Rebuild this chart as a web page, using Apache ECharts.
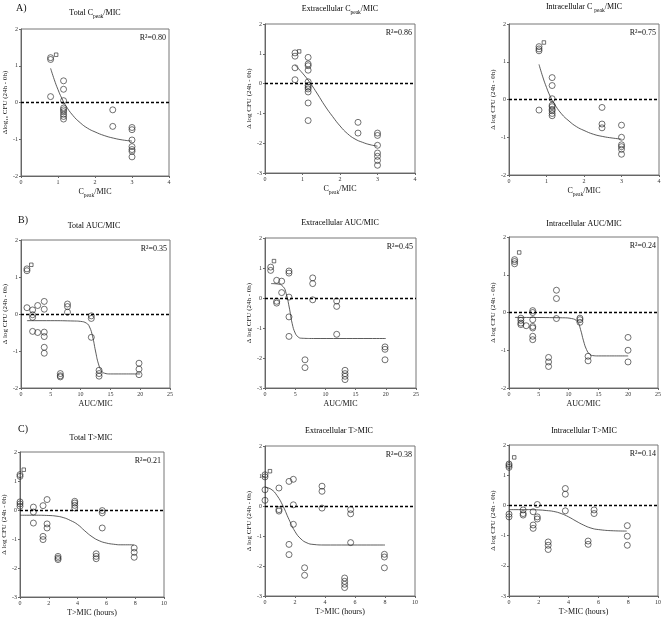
<!DOCTYPE html>
<html><head><meta charset="utf-8">
<script src="https://cdn.jsdelivr.net/npm/echarts@6/dist/echarts.min.js"></script>
<style>html,body{margin:0;padding:0;background:#fff}#c{width:664px;height:619px}</style>
</head><body><div id="c"></div>
<script>
// ---------- DATA ----------
// Panel 1: Total Cpeak/MIC
const p1Circles = [[0.8,1.22],[0.8,1.17],[0.8,0.16],
 [1.15,0.59],[1.15,0.36],[1.15,0.05],[1.15,-0.15],[1.15,-0.2],[1.15,-0.25],[1.15,-0.32],[1.15,-0.38],[1.15,-0.45],
 [2.48,-0.2],[2.48,-0.65],
 [3,-0.68],[3,-0.74],[3,-1.02],[3,-1.2],[3,-1.28],[3,-1.33],[3,-1.48]];
const p1Square = [[0.95,1.30]];
const p1Curve = [[0.8,0.93],[0.9,0.62],[1.0,0.35],[1.1,0.12],[1.2,-0.07],[1.4,-0.35],[1.6,-0.55],[1.8,-0.7],[2.0,-0.8],[2.25,-0.9],[2.5,-0.97],[2.75,-1.02],[3.0,-1.05]];
// Panel 2: Extracellular Cpeak/MIC
const p2Circles = [[0.8,1.03],[0.8,0.92],[0.8,0.53],[0.8,0.13],
 [1.15,0.88],[1.15,0.66],[1.15,0.6],[1.15,0.45],[1.15,0.06],[1.15,-0.06],[1.15,-0.12],[1.15,-0.18],[1.15,-0.28],[1.15,-0.65],[1.15,-1.24],
 [2.48,-1.3],[2.48,-1.66],
 [3,-1.66],[3,-1.74],[3,-2.07],[3,-2.33],[3,-2.44],[3,-2.58],[3,-2.74]];
const p2Square = [[0.91,1.08]];
const p2Curve = [[0.8,0.62],[1.0,0.35],[1.2,0.03],[1.4,-0.35],[1.6,-0.75],[1.8,-1.1],[2.0,-1.42],[2.2,-1.68],[2.4,-1.86],[2.6,-1.97],[2.8,-2.05],[3.0,-2.1]];
// Panel 3: Intracellular Cpeak/MIC
const p3Circles = [[0.8,1.4],[0.8,1.34],[0.8,1.29],[0.8,-0.28],
 [1.15,0.58],[1.15,0.37],[1.15,0.02],[1.15,-0.15],[1.15,-0.19],[1.15,-0.26],[1.15,-0.3],[1.15,-0.37],[1.15,-0.43],
 [2.48,-0.21],[2.48,-0.65],[2.48,-0.75],
 [3,-0.68],[3,-1.0],[3,-1.2],[3,-1.25],[3,-1.32],[3,-1.45]];
const p3Square = [[0.93,1.51]];
const p3Curve = [[0.8,0.93],[0.9,0.6],[1.0,0.32],[1.1,0.08],[1.2,-0.1],[1.4,-0.38],[1.6,-0.57],[1.8,-0.72],[2.0,-0.82],[2.25,-0.92],[2.5,-0.98],[2.75,-1.02],[3.0,-1.05]];
// Panel 4: Total AUC/MIC
const p4Circles = [[1,1.22],[1,1.17],[1,0.17],
 [1.95,0.11],[1.95,-0.02],[1.95,-0.09],[1.95,-0.47],
 [2.8,0.23],[2.8,-0.5],
 [3.9,0.34],[3.9,0.13],[3.9,-0.49],[3.9,-0.61],[3.9,-0.9],[3.9,-1.06],
 [6.6,-1.61],[6.6,-1.67],[6.6,-1.7],
 [7.8,0.27],[7.8,0.2],[7.8,0.05],
 [11.8,-0.05],[11.8,-0.12],[11.8,-0.63],
 [13.1,-1.52],[13.1,-1.61],[13.1,-1.68],
 [19.8,-1.33],[19.8,-1.49],[19.8,-1.64]];
const p4Square = [[1.73,1.33]];
const p4Curve = [[1,-0.18],[5,-0.18],[9,-0.19],[10,-0.2],[11,-0.25],[11.5,-0.35],[12,-0.6],[12.5,-1.0],[13,-1.35],[13.5,-1.53],[14,-1.6],[15,-1.62],[20,-1.62]];
// Panel 5: Extracellular AUC/MIC
const p5Circles = [[0.94,1.03],[0.94,0.92],
 [1.93,0.59],[1.93,-0.11],[1.93,-0.17],
 [2.76,0.56],[2.76,0.18],
 [3.97,0.9],[3.97,0.83],[3.97,0.03],[3.97,-0.63],[3.97,-1.28],
 [6.62,-2.06],[6.62,-2.32],
 [7.9,0.67],[7.9,0.48],[7.9,-0.06],
 [11.87,-0.1],[11.87,-0.28],[11.87,-1.21],
 [13.25,-2.41],[13.25,-2.52],[13.25,-2.61],[13.25,-2.72],
 [19.87,-1.63],[19.87,-1.71],[19.87,-2.06]];
const p5Square = [[1.49,1.23]];
const p5Curve = [[1,0.48],[2,0.47],[3,0.38],[3.5,0.15],[4,-0.3],[4.5,-0.85],[5,-1.17],[5.5,-1.3],[6,-1.34],[8,-1.35],[20,-1.35]];
// Panel 6: Intracellular AUC/MIC
const p6Circles = [[0.94,1.4],[0.94,1.35],[0.94,1.29],
 [1.99,-0.15],[1.99,-0.21],[1.99,-0.28],[1.99,-0.32],
 [2.88,-0.35],
 [3.98,0.05],[3.98,0.0],[3.98,-0.19],[3.98,-0.37],[3.98,-0.41],[3.98,-0.63],[3.98,-0.72],
 [6.64,-1.19],[6.64,-1.31],[6.64,-1.43],
 [7.96,0.59],[7.96,0.37],[7.96,-0.16],
 [11.9,-0.15],[11.9,-0.19],[11.9,-0.26],
 [13.27,-1.16],[13.27,-1.28],
 [19.97,-0.66],[19.97,-1.0],[19.97,-1.31]];
const p6Square = [[1.71,1.59]];
const p6Curve = [[1,-0.13],[9,-0.14],[10.5,-0.16],[11.5,-0.25],[12,-0.45],[12.5,-0.75],[13,-0.98],[13.5,-1.1],[14,-1.14],[15,-1.15],[20,-1.15]];
// Panel 7: Total T>MIC
const p7Circles = [[0,1.22],[0,1.16],[0,0.28],[0,0.21],[0,0.13],
 [0.93,0.1],[0.93,-0.07],[0.93,-0.45],
 [1.6,0.15],[1.6,-0.91],[1.6,-1.02],
 [1.88,0.36],[1.88,-0.48],[1.88,-0.62],
 [2.64,-1.6],[2.64,-1.66],[2.64,-1.71],
 [3.8,0.3],[3.8,0.24],[3.8,0.16],[3.8,0.07],
 [5.29,-1.51],[5.29,-1.6],[5.29,-1.68],
 [5.71,-0.02],[5.71,-0.1],[5.71,-0.62],
 [7.93,-1.31],[7.93,-1.46],[7.93,-1.63]];
const p7Square = [[0.26,1.39]];
const p7Curve = [[0,-0.18],[1,-0.18],[2,-0.19],[2.5,-0.21],[3,-0.26],[3.5,-0.36],[4,-0.5],[4.5,-0.72],[5,-0.92],[5.5,-1.06],[6,-1.14],[6.5,-1.18],[7,-1.2],[7.9,-1.2]];
// Panel 8: Extracellular T>MIC
const p8Circles = [[0,1.04],[0,0.97],[0,0.54],[0,0.19],
 [0.93,0.6],[0.93,-0.12],[0.93,-0.17],
 [1.6,0.82],[1.6,-1.28],[1.6,-1.62],
 [1.89,0.89],[1.89,0.04],[1.89,-0.61],
 [2.64,-2.06],[2.64,-2.31],
 [3.8,0.66],[3.8,0.49],[3.8,-0.07],
 [5.31,-2.4],[5.31,-2.51],[5.31,-2.61],[5.31,-2.72],
 [5.71,-0.12],[5.71,-0.26],[5.71,-1.22],
 [7.96,-1.61],[7.96,-1.7],[7.96,-2.06]];
const p8Square = [[0.33,1.16]];
const p8Curve = [[0,0.62],[0.4,0.56],[0.8,0.35],[1.2,0.0],[1.6,-0.45],[2.0,-0.85],[2.4,-1.1],[2.8,-1.23],[3.2,-1.28],[4,-1.3],[8,-1.3]];
// Panel 9: Intracellular T>MIC
const p9Circles = [[0,1.37],[0,1.32],[0,1.26],[0,-0.29],[0,-0.38],
 [0.95,-0.15],[0.95,-0.27],[0.95,-0.32],
 [1.62,-0.21],[1.62,-0.65],[1.62,-0.76],
 [1.9,0.03],[1.9,-0.38],[1.9,-0.45],
 [2.63,-1.21],[2.63,-1.32],[2.63,-1.46],
 [3.78,0.56],[3.78,0.37],[3.78,-0.18],
 [5.31,-1.18],[5.31,-1.29],
 [5.71,-0.15],[5.71,-0.27],
 [7.94,-0.67],[7.94,-1.02],[7.94,-1.32]];
const p9Square = [[0.35,1.59]];
const p9Curve = [[0,-0.14],[1,-0.14],[2,-0.15],[2.5,-0.17],[3,-0.2],[3.5,-0.27],[4,-0.38],[4.5,-0.52],[5,-0.65],[5.5,-0.75],[6,-0.8],[7,-0.84],[7.9,-0.85]];

const titles = ['{n|Total C}{s|peak}{n|/MIC}','{n|Extracellular C}{s|peak}{n|/MIC}','{n|Intracellular C }{s|peak}{n|/MIC}',
 '{n|Total AUC/MIC}','{n|Extracellular AUC/MIC}','{n|Intracellular AUC/MIC}',
 '{n|Total T>MIC}','{n|Extracellular T>MIC}','{n|Intracellular T>MIC}'];
const r2Labels = ['0.80','0.86','0.75','0.35','0.45','0.24','0.21','0.38','0.14'];
const xNames = ['{n|C}{s|peak}{n|/MIC}','{n|C}{s|peak}{n|/MIC}','{n|C}{s|peak}{n|/MIC}',
 '{n|AUC/MIC}','{n|AUC/MIC}','{n|AUC/MIC}',
 '{n|T>MIC (hours)}','{n|T>MIC (hours)}','{n|T>MIC (hours)}'];
const yNames = ['Δlog₁₀ CFU (24h - 0h)','Δ log CFU (24h - 0h)','Δ log CFU (24h - 0h)',
 'Δ log CFU (24h - 0h)','Δ log CFU (24h - 0h)','Δ log CFU (24h - 0h)',
 'Δ log CFU (24h - 0h)','Δ log CFU (24h - 0h)','Δ log CFU (24h - 0h)'];
const rowLabels = ['A)','B)','C)'];

const circles = [p1Circles,p2Circles,p3Circles,p4Circles,p5Circles,p6Circles,p7Circles,p8Circles,p9Circles];
const squares = [p1Square,p2Square,p3Square,p4Square,p5Square,p6Square,p7Square,p8Square,p9Square];
const curves = [p1Curve,p2Curve,p3Curve,p4Curve,p5Curve,p6Curve,p7Curve,p8Curve,p9Curve];

// ---------- LAYOUT ----------
const FONT = 'Liberation Serif';
const layout = [
 {l:21,t:29,w:148,h:147,xmax:4,xint:1,ymin:-2,ymax:2, tx:95, ty:14},
 {l:265,t:24,w:150,h:149,xmax:4,xint:1,ymin:-3,ymax:2, tx:340, ty:10},
 {l:509,t:24,w:150,h:151,xmax:4,xint:1,ymin:-2,ymax:2, tx:584, ty:8},
 {l:21,t:240,w:149,h:148,xmax:25,xint:5,ymin:-2,ymax:2, tx:94, ty:227},
 {l:265,t:238,w:151,h:150,xmax:25,xint:5,ymin:-3,ymax:2, tx:340, ty:224},
 {l:509,t:237,w:150,h:151,xmax:25,xint:5,ymin:-2,ymax:2, tx:584, ty:225},
 {l:20,t:452,w:144,h:145,xmax:10,xint:2,ymin:-3,ymax:2, tx:91, ty:439},
 {l:265,t:446,w:150,h:150,xmax:10,xint:2,ymin:-3,ymax:2, tx:339, ty:432},
 {l:509,t:445,w:150,h:151,xmax:10,xint:2,ymin:-3,ymax:2, tx:584, ty:432}
];
const rowPos = [[16,8],[18,220],[18,429]];

const rich = {
  n:{fontFamily:FONT,fontSize:8,color:'#111',lineHeight:10,verticalAlign:'top'},
  s:{fontFamily:FONT,fontSize:5.5,color:'#111',lineHeight:6,padding:[5,0,0,0],verticalAlign:'top'}
};

const grids=[], xAxes=[], yAxes=[], series=[], graphics=[];
const axisCommon = {
  axisLine:{show:true,onZero:false,lineStyle:{color:'#666',width:1}},
  axisTick:{show:true,length:2,lineStyle:{color:'#666',width:1}},
  splitLine:{show:false},
  axisLabel:{fontFamily:FONT,fontSize:6,color:'#333',margin:3}
};
layout.forEach((L,i)=>{
  grids.push({left:L.l,top:L.t,width:L.w,height:L.h,show:true,borderColor:'#777',borderWidth:1,backgroundColor:'transparent'});
  xAxes.push(Object.assign({gridIndex:i,type:'value',min:0,max:L.xmax,interval:L.xint,
    name:xNames[i],nameLocation:'middle',nameGap:12,nameTextStyle:{rich:rich}},axisCommon));
  yAxes.push(Object.assign({gridIndex:i,type:'value',min:L.ymin,max:L.ymax,interval:1,
    name:yNames[i],nameLocation:'middle',nameGap:11,nameTextStyle:{fontFamily:FONT,fontSize:7,color:'#111'}},axisCommon));
  series.push({type:'line',xAxisIndex:i,yAxisIndex:i,data:curves[i],smooth:true,showSymbol:false,symbol:'none',
    lineStyle:{color:'#333',width:0.8},silent:true,z:2,
    markLine:{silent:true,symbol:['none','none'],label:{show:false},animation:false,
      lineStyle:{color:'#000',type:[3,2],width:1.3},data:[{yAxis:0}]}});
  series.push({type:'scatter',xAxisIndex:i,yAxisIndex:i,data:circles[i],symbol:'circle',symbolSize:6,clip:false,
    itemStyle:{color:'rgba(255,255,255,0)',borderColor:'#222',borderWidth:0.8},z:3});
  series.push({type:'scatter',xAxisIndex:i,yAxisIndex:i,data:squares[i],symbol:'rect',symbolSize:3.5,clip:false,
    itemStyle:{color:'rgba(255,255,255,0)',borderColor:'#222',borderWidth:0.8},z:3});
  graphics.push({type:'text',x:L.tx,y:L.ty,style:{text:titles[i],rich:rich,align:'center',verticalAlign:'middle'}});
  graphics.push({type:'text',x:L.l+L.w-3,y:L.t+9,style:{text:'R²=' + r2Labels[i],fontFamily:FONT,fontSize:8,fill:'#111',align:'right',verticalAlign:'middle'}});
});
rowLabels.forEach((t,i)=>{
  graphics.push({type:'text',x:rowPos[i][0],y:rowPos[i][1],style:{text:t,fontFamily:FONT,fontSize:10,fill:'#111',align:'left',verticalAlign:'middle'}});
});

const chart = echarts.init(document.getElementById('c'),null,{renderer:'canvas'});
chart.setOption({animation:false,grid:grids,xAxis:xAxes,yAxis:yAxes,series:series,graphic:graphics});
</script></body></html>
